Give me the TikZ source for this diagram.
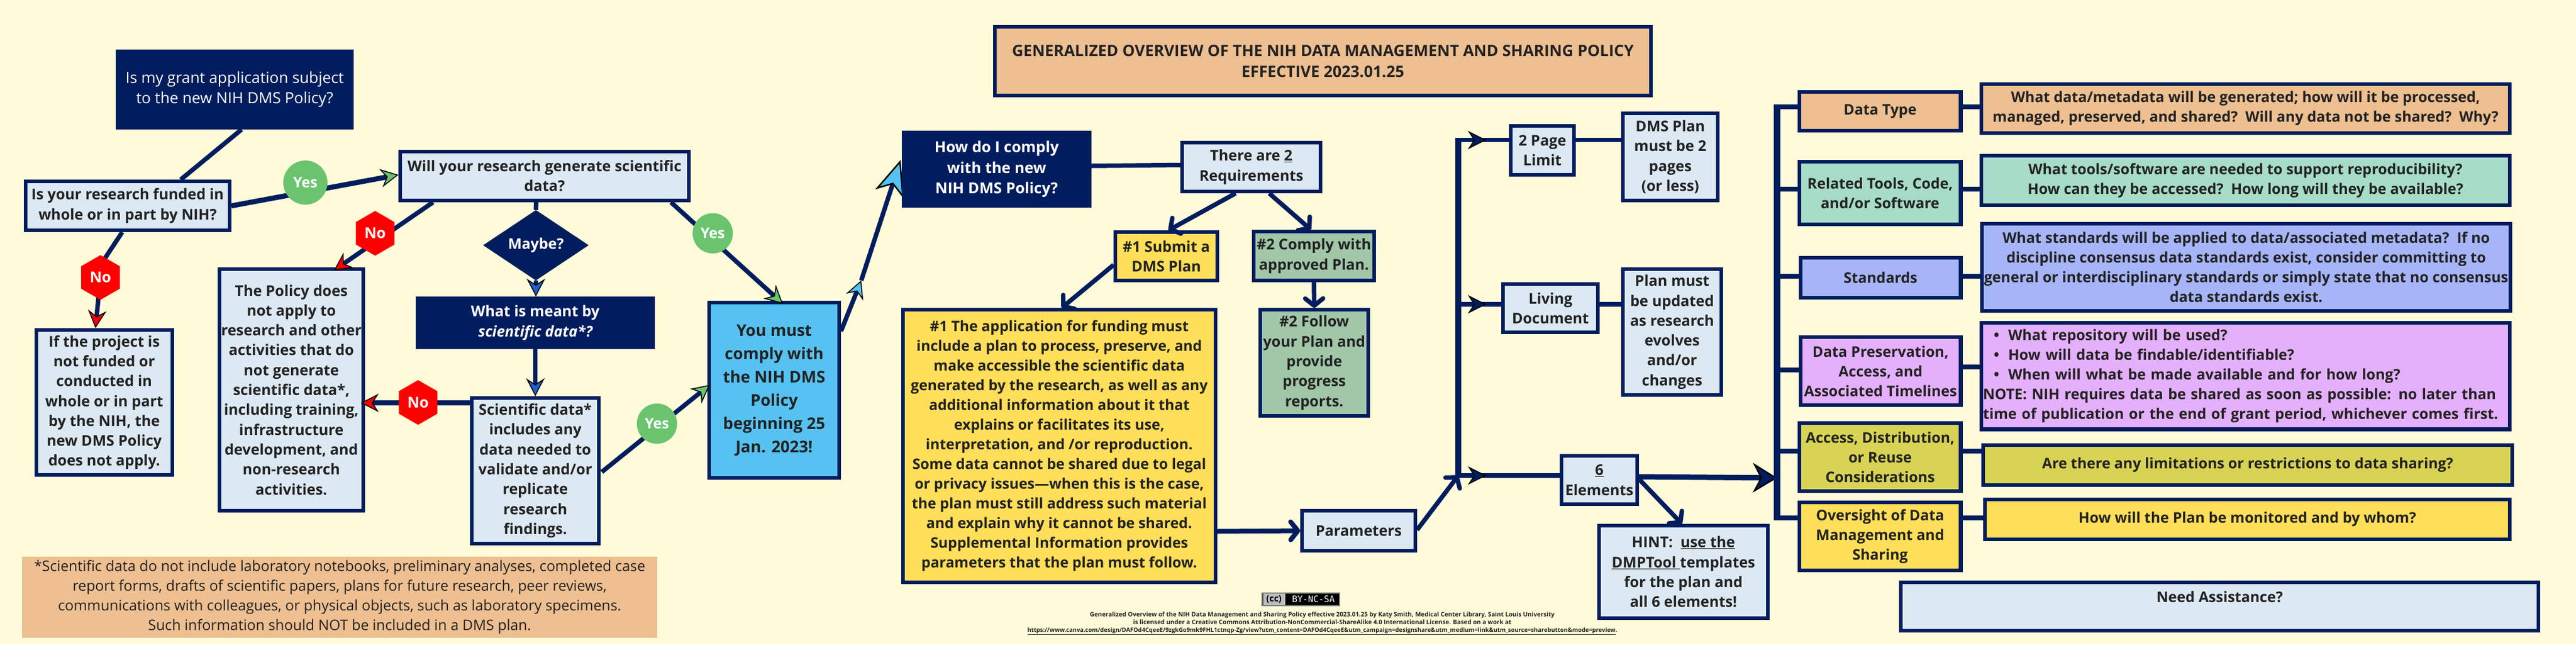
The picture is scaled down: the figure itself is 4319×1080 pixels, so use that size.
\documentclass[tikz,border=0pt]{standalone}
\usepackage{fontspec}
\usetikzlibrary{arrows.meta,shapes.geometric}
\setmainfont{Open Sans}
\newcommand\semibold{\bfseries}
\newfontfamily\monob{DejaVu Sans Mono}
\definecolor{bg}{HTML}{FFFBD9}
\definecolor{navy}{HTML}{021D5E}
\definecolor{lb}{HTML}{DCE9F3}
\definecolor{peach}{HTML}{EDBF91}
\definecolor{yel}{HTML}{FFDE59}
\definecolor{sage}{HTML}{A1C6A8}
\definecolor{mint}{HTML}{A6DCC8}
\definecolor{peri}{HTML}{A6B5F8}
\definecolor{lilac}{HTML}{E5B0FB}
\definecolor{olive}{HTML}{D8D354}
\definecolor{sky}{HTML}{56C2F1}
\definecolor{ygreen}{HTML}{6AC46E}
\definecolor{txt}{HTML}{222222}
\definecolor{mblue}{HTML}{1F5FD0}
\newcommand\fs[2]{\fontsize{#1}{#2}\selectfont}
\newcommand\bx[7][]{\node[box,#1,minimum width={(#5-#3-6.3)*1pt},minimum height={(#6-#4-6.3)*1pt}] (#2) at ({(#3+#5)/2},{(#4+#6)/2}) {#7};}
\tikzset{
  box/.style={draw=navy,fill=lb,line width=6.3pt,inner sep=0pt,align=center,text=txt,font=\semibold\fs{24.8}{33.3}},
  rbox/.style={font=\semibold\fs{24.5}{33}},
  nbox/.style={fill=navy,text=white},
  hexno/.style={regular polygon,regular polygon sides=6,shape border rotate=30,minimum size=75pt,inner sep=0pt,fill=red,text=white,font=\semibold\fs{25}{28}},
  yesc/.style={circle,inner sep=0pt,fill=ygreen,text=white,font=\semibold\fs{24.5}{28}},
  conn/.style={draw=navy,line width=7.5pt},
  hd/.style={-{Stealth[length=30pt,width=31pt,inset=10pt,fill=#1,color=black,line width=1.6pt]}},
  barb/.style={-{Straight Barb[length=12pt,width=30pt,round]}},
}
\pgfdeclarelayer{top}
\pgfsetlayers{main,top}
\begin{document}
\begin{tikzpicture}[x=1pt,y=-1pt]
\useasboundingbox (0,0) rectangle (4319,1080);
\fill[bg] (0,0) rectangle (4319,1080);
% left flow
\bx[nbox,font=\normalfont\fs{25.8}{34}]{qa}{194}{83}{593}{217}{Is my grant application subject\\to the new NIH DMS Policy?}
\bx{qb}{40}{301}{388}{389}{Is your research funded in\\whole or in part by NIH?}
\bx{will}{668}{251}{1158}{339}{Will your research generate scientific\\data?}
\bx{qc}{57.5}{550}{292}{799}{If the project is\\not funded or\\conducted in\\whole or in part\\by the NIH, the\\new DMS Policy\\does not apply.}
\bx{pol}{365}{447.5}{612}{859}{The Policy does\\not apply to\\research and other\\activities that do\\not generate\\scientific data*,\\including training,\\infrastructure\\development, and\\non-research\\activities.}
\bx[nbox]{what}{697}{497}{1098}{585}{What is meant by\\{\itshape scientific data*?}}
\bx{sci}{788}{664}{1007}{914}{Scientific data*\\includes any\\data needed to\\validate and/or\\replicate\\research\\findings.}
\bx[fill=sky,font=\semibold\fs{27}{39}]{you}{1186}{504}{1410}{804}{You must\\comply with\\the NIH DMS\\Policy\\beginning 25\\Jan. 2023!}
\node[fill=peach,inner sep=0pt,minimum width=1065pt,minimum height=136.5pt,align=center,text=txt,font=\fs{24.3}{33}] (note) at (569.5,1000.8) {*Scientific data do not include laboratory notebooks, preliminary analyses, completed case\\report forms, drafts of scientific papers, plans for future research, peer reviews,\\communications with colleagues, or physical objects, such as laboratory specimens.\\Such information should NOT be included in a DMS plan.};
% title
\bx[fill=peach,font=\normalfont\bfseries\fs{26.3}{35}]{title}{1665}{42}{2771}{163}{GENERALIZED OVERVIEW OF THE NIH DATA MANAGEMENT AND SHARING POLICY\\EFFECTIVE 2023.01.25}
% middle
\bx{there}{1979}{236}{2217}{324}{There are \underline{2}\\Requirements}
\bx[fill=yel]{submit}{1867}{386}{2044}{473}{\#1 Submit a\\DMS Plan}
\bx[fill=sage]{comply}{2099}{385}{2307}{473}{\#2 Comply with\\approved Plan.}
\bx[fill=yel,font=\semibold\fs{24.3}{33}]{long}{1511}{516}{2041}{979}{\#1 The application for funding must\\include a plan to process, preserve, and\\make accessible the scientific data\\generated by the research, as well as any\\additional information about it that\\explains or facilitates its use,\\interpretation, and /or reproduction.\\Some data cannot be shared due to legal\\or privacy issues—when this is the case,\\the plan must still address such material\\and explain why it cannot be shared.\\Supplemental Information provides\\parameters that the plan must follow.}
\bx[fill=sage]{follow}{2110}{516}{2297}{700}{\#2 Follow\\your Plan and\\provide\\progress\\reports.}
\bx{param}{2180}{853}{2376}{926}{Parameters}
\bx{two}{2530}{208}{2642}{296}{2 Page\\Limit}
\bx{dms}{2718}{187}{2883}{339}{DMS Plan\\must be 2\\pages\\(or less)}
\bx{living}{2517}{473}{2682}{560}{Living\\Document}
\bx{plan}{2718}{448}{2889}{665}{Plan must\\be updated\\as research\\evolves\\and/or\\changes}
\bx{six}{2615}{761}{2748}{848}{\underline{6}\\Elements}
\bx{hint}{2678}{878}{2967}{1039}{HINT:\ \ \underline{use the}\\\underline{DMPTool }templates\\for the plan and\\all 6 elements!}
% right
\bx[fill=peach,rbox]{dt}{3014}{151}{3290.5}{222}{Data Type}
\bx[fill=peach,rbox]{adt}{3319}{138}{4211}{226}{What data/metadata will be generated; how will it be processed,\\managed, preserved, and shared?\ \ Will any data not be shared?\ \ Why?}
\bx[fill=mint,rbox]{rt}{3014}{268}{3290.5}{379}{Related Tools, Code,\\and/or Software}
\bx[fill=mint,rbox]{art}{3318.5}{258}{4211}{347}{What tools/software are needed to support reproducibility?\\How can they be accessed?\ \ How long will they be available?}
\bx[fill=peri,rbox]{st}{3015.5}{429}{3290.5}{502}{Standards}
\bx[fill=peri,rbox]{ast}{3320}{372}{4212}{524}{What standards will be applied to data/associated metadata?\ \ If no\\discipline consensus data standards exist, consider committing to\\general or interdisciplinary standards or simply state that no consensus\\data standards exist.}
\bx[fill=lilac,rbox]{pr}{3015.5}{562}{3290.5}{682}{Data Preservation,\\Access, and\\Associated Timelines}
\bx[fill=lilac,rbox,text width=880pt,align=left]{apr}{3318.5}{537.5}{4211}{722.5}{\hspace*{18pt}\textbullet\hspace{15pt}What repository will be used?\\\hspace*{18pt}\textbullet\hspace{15pt}How will data be findable/identifiable?\\\hspace*{18pt}\textbullet\hspace{15pt}When will what be made available and for how long?\\NOTE: NIH requires data be shared as soon as possible: no later than\\time of publication or the end of grant period, whichever comes first.}
\bx[fill=olive,rbox]{ac}{3014}{706}{3290.5}{826}{Access, Distribution,\\or Reuse\\Considerations}
\bx[fill=olive,rbox]{aac}{3322}{743}{4215}{816}{Are there any limitations or restrictions to data sharing?}
\bx[fill=yel,rbox]{ov}{3014}{839}{3290.5}{959}{Oversight of Data\\Management and\\Sharing}
\bx[fill=yel,rbox]{aov}{3325}{834}{4211}{907}{How will the Plan be monitored and by whom?}
\bx[rbox]{need}{3184}{972.5}{4259}{1060}{Need Assistance?\\\mbox{}}
% top layer
\begin{pgfonlayer}{top}
\node[hexno] (noa) at (168.5,465) {No};
\node[hexno] (nob) at (629,391) {No};
\node[hexno] (noc) at (701,674.5) {No};
\node[yesc,minimum size=74pt] (yesa) at (512,306) {Yes};
\node[yesc,minimum size=67.5pt] (yesb) at (1195,391) {Yes};
\node[yesc,minimum size=67.5pt] (yesc) at (1101.5,710) {Yes};
\node[diamond,fill=navy,inner sep=0pt,minimum width=177pt,minimum height=81pt,text=white,font=\semibold\fs{24.5}{28}] (maybe) at (898.5,411) {Maybe?};
\bx[nbox,font=\semibold\fs{25.4}{34.4}]{how}{1512}{219}{1830}{348}{How do I comply\\with the new\\NIH DMS Policy?}
\end{pgfonlayer}
% connector helpers
\coordinate (ltop) at (2445,234.7);
\coordinate (lliv) at (2445,510);
\coordinate (lbot) at (2445,797);
\coordinate (rtop) at (2979.7,179);
\coordinate (rb) at (2979.7,317);
\coordinate (rc) at (2979.7,463);
\coordinate (rd) at (2979.7,620);
\coordinate (re) at (2979.7,756);
\coordinate (rbot) at (2979.7,868);
\coordinate (rdr) at (2979.7,615);
\coordinate (midsky) at (1444,470);
% connectors left
\draw[conn] ([xshift=11.5pt]qa.south) -- ([xshift=89pt]qb.north);
\draw[conn,hd=ygreen,line width=8.5pt] (qb.east) -- ([yshift=2pt]will.west);
\draw[conn] ([xshift=-9pt]qb.south) -- ([xshift=8pt,yshift=33pt]noa.center) -- (noa.center);
\draw[conn,hd=red] (noa.center) -- ([xshift=-14.75pt]qc.north);
\draw[conn,hd=red] ([xshift=-187pt]will.south) -- ([xshift=71.5pt,yshift=-5.5pt]pol.north);
\draw[conn] ([xshift=-14pt]will.south) -- (maybe.north);
\draw[conn,hd=mblue] (maybe.south) -- (maybe.south |- what.north);
\draw[conn,hd=mblue] (what.south) -- (sci.north);
\draw[conn,hd=red,line width=8.5pt] ([yshift=114pt]sci.west) -- ([xshift=-7pt,yshift=-22pt]pol.east);
\draw[conn,hd=ygreen] ([xshift=2pt,yshift=-2pt]sci.east) -- ([xshift=4pt,yshift=9pt]you.west);
\draw[conn,hd=ygreen] ([xshift=212pt]will.south) -- ([xshift=14.5pt,yshift=-5pt]you.north);
\draw[conn,hd=sky] ([yshift=99pt]you.east) -- (midsky);
\draw[conn,-{Stealth[length=60pt,width=50pt,inset=17pt,fill=sky,color=black,line width=2.5pt]}] (midsky) -- ([xshift=-2pt,yshift=15.5pt]how.west);
% middle
\draw[conn] ([yshift=5.5pt]how.east) -- ([yshift=3.5pt]there.west);
\draw[conn,barb] ([xshift=-26.4pt]there.south) -- ([xshift=3.5pt]submit.north);
\draw[conn,barb] ([xshift=30pt]there.south) -- ([xshift=-5pt]comply.north);
\draw[conn,barb] ([yshift=-14.5pt]submit.west) -- ([xshift=4pt]long.north);
\draw[conn,barb] (comply.south) -- (follow.north);
\draw[conn,barb,line width=8pt] ([yshift=-143pt]long.east) -- (param.west);
\draw[conn,barb] ([yshift=1.5pt]param.east) -- (lbot);
\draw[conn,line width=10pt] ([yshift=4pt]ltop) -- (lbot);
\draw[conn] (ltop) -- (ltop -| two.west);
\draw[conn] (ltop -| two.east) -- (ltop -| dms.west);
\draw[conn] (lliv) -- (lliv -| living.west);
\draw[conn] (lliv -| living.east) -- (lliv -| plan.west);
\draw[conn] (lbot) -- (lbot -| six.west);
\foreach \c in {ltop,lliv,lbot}{\draw[conn,-{Stealth[length=31pt,width=31pt,inset=10pt,fill=navy,color=black,line width=1.6pt]}] (\c) -- +(47,0);}
\draw[conn,-{Stealth[length=41pt,width=50pt,inset=13pt,fill=navy,color=black,line width=2.4pt]},line width=9pt] ([yshift=5.5pt]six.east) -- ([yshift=3.5pt]six.east -| rbot);
\draw[conn,barb] ([yshift=1.5pt]six.east) -- ([xshift=-2.5pt]hint.north);
% right
\draw[conn,line width=10.5pt] ([yshift=4pt]rtop) -- ([yshift=-4pt]rbot);
\draw[conn] (rtop) -- (rtop -| dt.west);
\draw[conn] (rtop -| dt.east) -- (rtop -| adt.west);
\draw[conn] (rb) -- (rb -| rt.west);
\draw[conn] (rb -| rt.east) -- (rb -| art.west);
\draw[conn] (rc) -- (rc -| st.west);
\draw[conn] (rc -| st.east) -- (rc -| ast.west);
\draw[conn] (rd) -- (rd -| pr.west);
\draw[conn] (rdr -| pr.east) -- (rdr -| apr.west);
\draw[conn] (re) -- (re -| ac.west);
\draw[conn] (re -| ac.east) -- (re -| aac.west);
\draw[conn] (rbot) -- (rbot -| ov.west);
\draw[conn] (rbot -| ov.east) -- (rbot -| aov.west);
% badge and credit
\node[fill=black,draw=gray,line width=1.5pt,inner sep=0pt,minimum width=130pt,minimum height=21pt,text=white,font=\monob\fs{14.8}{16}] (badge) at (2181,1004.5) {\hspace*{42pt}BY-NC-SA};
\node[fill=lightgray,inner sep=0pt,minimum width=37pt,minimum height=19pt,text=black,font=\normalfont\bfseries\fs{15}{16}] (ccbit) at (2136,1004.5) {(cc)};
\node[inner sep=0pt,align=center,text=txt,font=\semibold\fs{10.3}{13}] (credit) at (2217,1045) {Generalized Overview of the NIH Data Management and Sharing Policy effective 2023.01.25 by Katy Smith, Medical Center Library, Saint Louis University\\is licensed under a Creative Commons Attribution-NonCommercial-ShareAlike 4.0 International License. Based on a work at\\{\fs{9.9}{13}\underline{https://www.canva.com/design/DAFOd4CqeeE/9zgkGo9mk9FHL1ctnqp-Zg/view?utm\_content=DAFOd4CqeeE\&utm\_campaign=designshare\&utm\_medium=link\&utm\_source=sharebutton\&mode=preview}.}};
\end{tikzpicture}
\end{document}
